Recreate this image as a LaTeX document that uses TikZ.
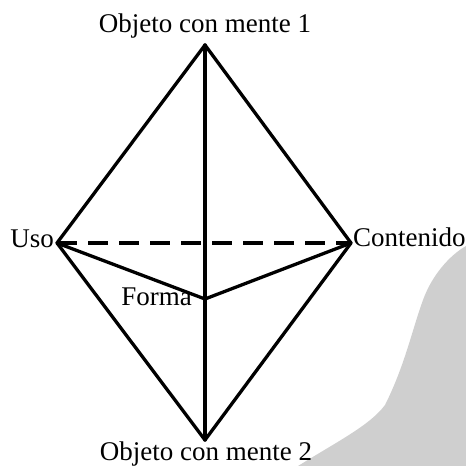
\documentclass[tikz,border=0pt]{standalone}
\usepackage{fontspec}
\setmainfont{Liberation Serif}
\begin{document}
\begin{tikzpicture}[x=1pt,y=-1pt,
  edge/.style={line width=3.3pt,line cap=round,line join=round},
  dashedge/.style={line width=3.3pt,dash pattern=on 20pt off 11pt},
  lbl/.style={inner sep=0pt,font=\fontsize{27}{31}\selectfont}]
\useasboundingbox (0,0) rectangle (466,466);
\fill[gray!38] (466,246) .. controls (450,255) and (432,275) .. (423,300)
  .. controls (412,330) and (405,365) .. (385,405)
  .. controls (370,425) and (340,440) .. (298,466) -- (466,466) -- cycle;
\coordinate (top) at (205,45);
\coordinate (bot) at (205,440);
\coordinate (uso) at (57,243);
\coordinate (con) at (351,243);
\coordinate (for) at (205,299);
\draw[dashedge] (uso) -- (con);
\draw[edge] (top) -- (bot);
\draw[edge] (uso) -- (top) -- (con) -- (bot) -- cycle;
\draw[edge] (uso) -- (for) -- (con);
\node[lbl,anchor=base] (t1) at (205,32) {Objeto con mente 1};
\node[lbl,anchor=base] (t2) at (206,460) {Objeto con mente 2};
\node[lbl,anchor=base east] (tu) at (54,247) {Uso};
\node[lbl,anchor=base west] (tc) at (353,246) {Contenido};
\node[lbl,anchor=base east] (tf) at (192,305) {Forma};
\end{tikzpicture}
\end{document}
